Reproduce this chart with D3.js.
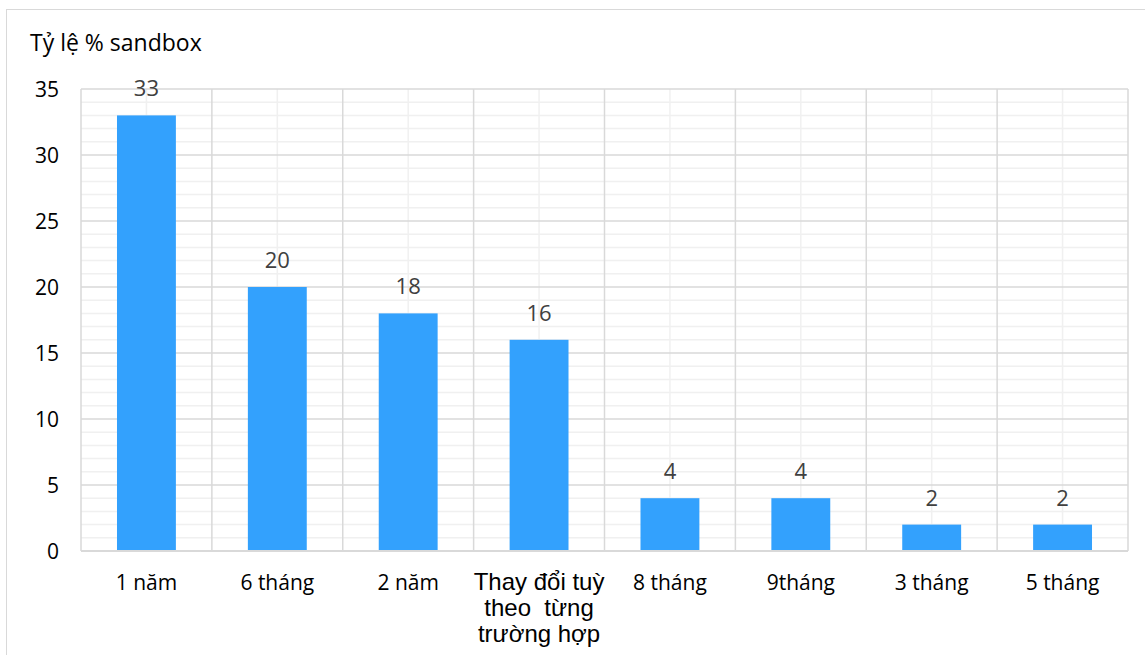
<!DOCTYPE html>
<html>
<head>
<meta charset="utf-8">
<script src="https://cdn.jsdelivr.net/npm/d3@7"></script>
<style>
  body { margin: 0; background: #fff; }
  text { font-family: "Open Sans", "Noto Sans", sans-serif; }
</style>
</head>
<body>
<svg id="chart" width="1145" height="655"></svg>
<script>
var categories = ["1 năm", "6 tháng", "2 năm", "Thay đổi tuỳ|theo  từng|trường hợp", "8 tháng", "9tháng", "3 tháng", "5 tháng"];
var values = [33, 20, 18, 16, 4, 4, 2, 2];
var yTicks = [0, 5, 10, 15, 20, 25, 30, 35];
var yTitle = "Tỷ lệ % sandbox";

var svg = d3.select("#chart");
var pLeft = 81, pRight = 1128, pTop = 89, pBottom = 551;

// chart frame
svg.append("rect").attr("x", 6.5).attr("y", 9.5).attr("width", 1150).attr("height", 700)
  .attr("fill", "none").attr("stroke", "#d9d9d9").attr("stroke-width", 1);

var x = d3.scaleBand().domain(d3.range(categories.length)).range([pLeft, pRight]).paddingInner(0).paddingOuter(0);
var y = d3.scaleLinear().domain([0, 35]).range([pBottom, pTop]);

var grid = svg.append("g");
// minor horizontal
grid.selectAll("line.minh").data(d3.range(0, 36, 1).filter(function(d){ return d % 5 != 0; }))
  .enter().append("line")
  .attr("x1", pLeft).attr("x2", pRight)
  .attr("y1", function(d){ return y(d); }).attr("y2", function(d){ return y(d); })
  .attr("stroke", "#f0f0f0").attr("stroke-width", 1.5);
// minor vertical (category centers)
grid.selectAll("line.minv").data(d3.range(categories.length))
  .enter().append("line")
  .attr("x1", function(i){ return x(i) + x.bandwidth()/2; })
  .attr("x2", function(i){ return x(i) + x.bandwidth()/2; })
  .attr("y1", pTop).attr("y2", pBottom)
  .attr("stroke", "#f0f0f0").attr("stroke-width", 1.5);
// major horizontal
grid.selectAll("line.majh").data(yTicks)
  .enter().append("line")
  .attr("x1", pLeft).attr("x2", pRight)
  .attr("y1", function(d){ return y(d); }).attr("y2", function(d){ return y(d); })
  .attr("stroke", "#d9d9d9").attr("stroke-width", 1.5);
// major vertical (category boundaries)
grid.selectAll("line.majv").data(d3.range(categories.length + 1))
  .enter().append("line")
  .attr("x1", function(i){ return pLeft + i * x.step(); })
  .attr("x2", function(i){ return pLeft + i * x.step(); })
  .attr("y1", pTop).attr("y2", pBottom)
  .attr("stroke", "#d9d9d9").attr("stroke-width", 1.5);

// bars
var bw = x.bandwidth() * 0.45;
svg.selectAll("rect.bar").data(values)
  .enter().append("rect").attr("class", "bar")
  .attr("x", function(d, i){ return x(i) + (x.bandwidth() - bw)/2; })
  .attr("y", function(d){ return y(d); })
  .attr("width", bw)
  .attr("height", function(d){ return pBottom - y(d); })
  .attr("fill", "#33a1fd");

// axis line
svg.append("line").attr("x1", pLeft).attr("x2", pRight).attr("y1", pBottom).attr("y2", pBottom)
  .attr("stroke", "#d9d9d9").attr("stroke-width", 2);

// data labels
svg.selectAll("text.lbl").data(values)
  .enter().append("text")
  .attr("x", function(d, i){ return x(i) + x.bandwidth()/2; })
  .attr("y", function(d){ return y(d) - 19; })
  .attr("text-anchor", "middle")
  .attr("font-size", 22)
  .attr("fill", "#404040")
  .text(function(d){ return d; });

// y tick labels
svg.selectAll("text.yt").data(yTicks)
  .enter().append("text")
  .attr("x", 59)
  .attr("y", function(d){ return y(d) + 8; })
  .attr("text-anchor", "end")
  .attr("font-size", 21)
  .attr("fill", "#000")
  .text(function(d){ return d; });

// category labels
categories.forEach(function(c, i) {
  var lines = c.split("|");
  var t = svg.append("text")
    .attr("x", x(i) + x.bandwidth()/2)
    .attr("y", 590)
    .attr("text-anchor", "middle")
    .attr("font-size", 21)
    .attr("fill", "#000");
  if (lines.length > 1) t.style("font-family", "'Liberation Sans', Arial, sans-serif").attr("font-size", 24);
  lines.forEach(function(l, j) {
    t.append("tspan").attr("x", x(i) + x.bandwidth()/2).attr("dy", j == 0 ? 0 : 26)
      .style("white-space", "pre").text(l);
  });
});

// y title
svg.append("text").attr("x", 30).attr("y", 51).attr("font-size", 23).attr("fill", "#000").text(yTitle);
</script>
</body>
</html>
